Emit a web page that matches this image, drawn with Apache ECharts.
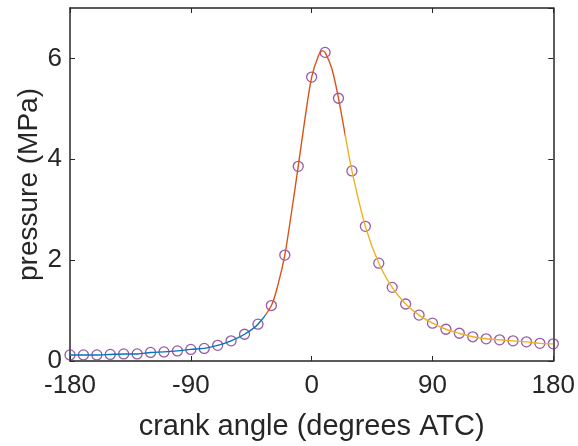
<!DOCTYPE html>
<html><head><meta charset="utf-8">
<script src="https://cdn.jsdelivr.net/npm/echarts@6/dist/echarts.min.js"></script>
<style>html,body{margin:0;padding:0;background:#fff}#c{width:578px;height:446px}</style>
</head><body><div id="c"></div>
<script>
// marker data (every 10 degrees)
const markerAngles = [-180,-170,-160,-150,-140,-130,-120,-110,-100,-90,-80,-70,-60,-50,-40,-30,-20,-10,0,10,20,30,40,50,60,70,80,90,100,110,120,130,140,150,160,170,180];
const markerPressure = [0.12,0.12,0.12,0.13,0.14,0.14,0.17,0.18,0.20,0.23,0.25,0.31,0.40,0.53,0.73,1.10,2.10,3.86,5.63,6.12,5.21,3.77,2.67,1.94,1.46,1.13,0.91,0.75,0.63,0.55,0.48,0.44,0.42,0.40,0.38,0.35,0.34];
// fitted curve
const curveAngles = [-180,-170,-160,-150,-140,-130,-120,-110,-100,-90,-80,-70,-60,-50,-40,-30,-25,-20,-15,-10,-5,0,5,8,10,15,20,25,30,40,50,60,70,80,90,100,110,120,130,140,150,160,170,180];
const curvePressure = [0.12,0.12,0.12,0.13,0.14,0.14,0.17,0.18,0.20,0.23,0.25,0.31,0.40,0.53,0.73,1.10,1.52,2.10,2.95,3.86,4.80,5.63,6.05,6.15,6.12,5.80,5.21,4.48,3.77,2.67,1.94,1.46,1.13,0.91,0.75,0.63,0.55,0.48,0.44,0.42,0.40,0.38,0.35,0.34];
const xTicks = [-180,-90,0,90,180];
const yTicks = [0,2,4,6];

const FONT = '"Liberation Sans", Arial, sans-serif';
const TXT = '#262626';
const chart = echarts.init(document.getElementById('c'));
const axisCommon = {
  axisLine:{show:true,onZero:false,lineStyle:{color:TXT,width:1.5}},
  axisTick:{show:true,inside:true,length:5,lineStyle:{color:TXT,width:1}},
  splitLine:{show:false}
};
chart.setOption({
  animation:false,
  grid:{left:70,right:22,top:8,bottom:85},
  xAxis:[
    Object.assign({type:'value',min:xTicks[0],max:xTicks[xTicks.length-1],interval:90,position:'bottom',
      name:'crank angle (degrees ATC)',nameLocation:'middle',nameGap:51,nameMoveOverlap:false,
      nameTextStyle:{fontFamily:FONT,fontSize:29,color:TXT},
      axisLabel:{fontFamily:FONT,fontSize:26,color:TXT,margin:12}},axisCommon),
    Object.assign({type:'value',min:-180,max:180,interval:90,position:'top',axisLabel:{show:false}},axisCommon)
  ],
  yAxis:[
    Object.assign({type:'value',min:0,max:7,interval:2,position:'left',
      name:'pressure (MPa)',nameLocation:'middle',nameGap:27,nameMoveOverlap:false,
      nameTextStyle:{fontFamily:FONT,fontSize:28,color:TXT},
      axisLabel:{fontFamily:FONT,fontSize:26,color:TXT,margin:8,showMaxLabel:false,
        formatter:v=>yTicks.includes(v)?String(v):''}},axisCommon),
    Object.assign({type:'value',min:0,max:7,interval:2,position:'right',axisLabel:{show:false}},axisCommon)
  ],
  visualMap:{show:false,type:'piecewise',seriesIndex:0,dimension:0,
    pieces:[{lt:-35,color:'#0072BD'},{gte:-35,lt:25,color:'#D95319'},{gte:25,color:'#EDB120'}]},
  series:[
    {type:'line',smooth:0.3,showSymbol:false,symbol:'none',lineStyle:{width:1.4},
      data:curveAngles.map((a,i)=>[a,curvePressure[i]])},
    {type:'scatter',symbol:'circle',symbolSize:10,
      itemStyle:{color:'rgba(0,0,0,0)',borderColor:'#7E2F8E',borderWidth:1.3},
      data:markerAngles.map((a,i)=>[a,markerPressure[i]])}
  ]
});
</script></body></html>
